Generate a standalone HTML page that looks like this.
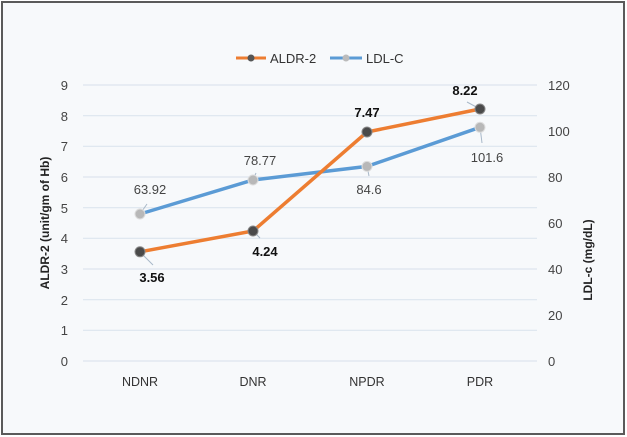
<!DOCTYPE html>
<html><head><meta charset="utf-8"><style>
html,body{margin:0;padding:0;background:#fff;}
svg{display:block;font-family:"Liberation Sans",sans-serif;}
</style></head><body>
<svg width="627" height="437" viewBox="0 0 627 437">
<rect x="2" y="2" width="622" height="432" fill="#f7f9fb" stroke="#5a5a5a" stroke-width="2"/>
<g stroke="#dde5ee" stroke-width="1.2">
<line x1="83" y1="85" x2="537" y2="85"/><line x1="83" y1="115.7" x2="537" y2="115.7"/>
<line x1="83" y1="146.3" x2="537" y2="146.3"/><line x1="83" y1="177" x2="537" y2="177"/>
<line x1="83" y1="207.7" x2="537" y2="207.7"/><line x1="83" y1="238.3" x2="537" y2="238.3"/>
<line x1="83" y1="269" x2="537" y2="269"/><line x1="83" y1="299.7" x2="537" y2="299.7"/>
<line x1="83" y1="330.3" x2="537" y2="330.3"/><line x1="83" y1="361" x2="537" y2="361"/>
</g>
<g font-size="13" fill="#444" text-anchor="end">
<text x="68" y="90">9</text><text x="68" y="121">8</text><text x="68" y="151">7</text>
<text x="68" y="182">6</text><text x="68" y="213">5</text><text x="68" y="243">4</text>
<text x="68" y="274">3</text><text x="68" y="305">2</text><text x="68" y="335">1</text><text x="68" y="366">0</text>
</g>
<g font-size="13" fill="#444" text-anchor="start">
<text x="548" y="90">120</text><text x="548" y="136">100</text><text x="548" y="182">80</text>
<text x="548" y="228">60</text><text x="548" y="274">40</text><text x="548" y="320">20</text><text x="548" y="366">0</text>
</g>
<g font-size="12.5" fill="#333" text-anchor="middle">
<text x="140" y="386">NDNR</text><text x="253" y="386">DNR</text><text x="367" y="386">NPDR</text><text x="480" y="386">PDR</text>
</g>
<text transform="translate(49,223) rotate(-90)" text-anchor="middle" font-size="12" font-weight="bold" fill="#222">ALDR-2 (unit/gm of Hb)</text>
<text transform="translate(592,260) rotate(-90)" text-anchor="middle" font-size="12" font-weight="bold" fill="#222">LDL-c (mg/dL)</text>
<line x1="236" y1="58" x2="266" y2="58" stroke="#ed7d31" stroke-width="3"/>
<circle cx="251" cy="58" r="3.5" fill="#555"/>
<text x="270" y="63" font-size="13" fill="#333">ALDR-2</text>
<line x1="330" y1="58" x2="362" y2="58" stroke="#5b9bd5" stroke-width="3"/>
<circle cx="346" cy="58" r="3.5" fill="#bbb"/>
<text x="366" y="63" font-size="13" fill="#333">LDL-C</text>
<g stroke="#a8b8c8" stroke-width="1">
<line x1="140" y1="214" x2="147" y2="204"/><line x1="253" y1="180" x2="256" y2="173"/>
<line x1="367" y1="166" x2="369" y2="176"/><line x1="480" y1="127" x2="482" y2="143"/>
<line x1="140" y1="252" x2="153" y2="265"/><line x1="253" y1="231" x2="260" y2="238"/>
<line x1="480" y1="109" x2="467" y2="102"/>
</g>
<polyline points="140,214 253,180 367,166.4 480,127.3" fill="none" stroke="#5b9bd5" stroke-width="3.5"/>
<polyline points="140,251.8 253,231 367,132 480,109" fill="none" stroke="#ed7d31" stroke-width="3.5"/>
<g fill="#b8b8b8" stroke="#ddd" stroke-width="1">
<circle cx="140" cy="214" r="5"/><circle cx="253" cy="180" r="5"/><circle cx="367" cy="166.4" r="5"/><circle cx="480" cy="127.3" r="5"/>
</g>
<g fill="#4a4a4a" stroke="#888" stroke-width="1">
<circle cx="140" cy="251.8" r="5"/><circle cx="253" cy="231" r="5"/><circle cx="367" cy="132" r="5"/><circle cx="480" cy="109" r="5"/>
</g>
<g font-size="13" fill="#444" text-anchor="middle">
<text x="150" y="194">63.92</text><text x="260" y="165">78.77</text>
<text x="369" y="194">84.6</text><text x="487" y="162">101.6</text>
</g>
<g font-size="13" fill="#111" font-weight="bold" text-anchor="middle">
<text x="152" y="282">3.56</text><text x="265" y="256">4.24</text>
<text x="367" y="117">7.47</text><text x="465" y="95">8.22</text>
</g>
</svg>
</body></html>
